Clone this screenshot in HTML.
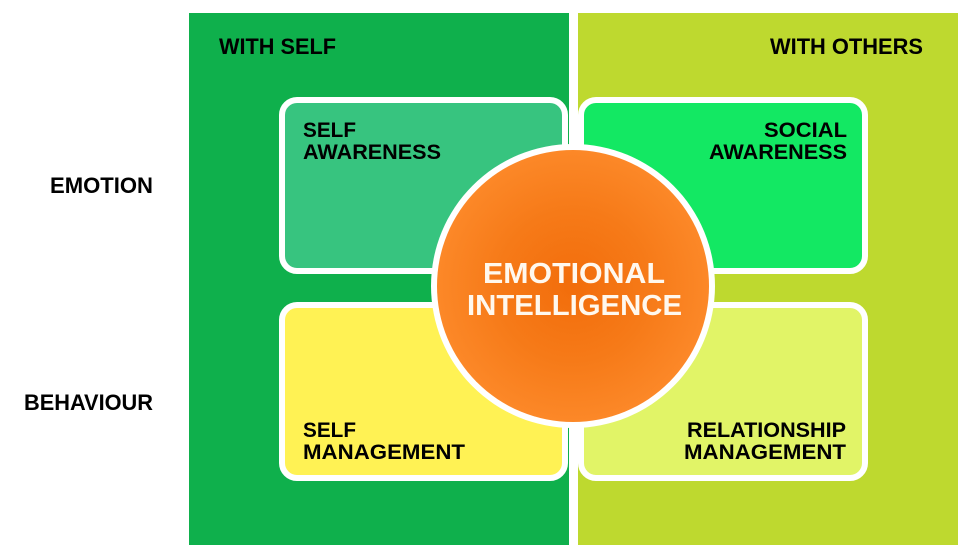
<!DOCTYPE html>
<html>
<head>
<meta charset="utf-8">
<style>
  html, body { margin: 0; padding: 0; background: #ffffff; }
  body { width: 971px; height: 558px; overflow: hidden; }
  svg { display: block; }
  text { font-family: "Liberation Sans", Arial, sans-serif; font-weight: bold; }
</style>
</head>
<body>
<svg width="971" height="558" viewBox="0 0 971 558" xmlns="http://www.w3.org/2000/svg">
  <defs>
    <radialGradient id="og" cx="0.5" cy="0.5" r="0.5">
      <stop offset="0" stop-color="#f26d0b"/>
      <stop offset="0.55" stop-color="#f67a18"/>
      <stop offset="1" stop-color="#fc8828"/>
    </radialGradient>
  </defs>
  <rect x="0" y="0" width="971" height="558" fill="#ffffff"/>

  <!-- panels -->
  <rect x="189" y="13" width="380" height="532" fill="#0fb04c"/>
  <rect x="578" y="13" width="380" height="532" fill="#bed92f"/>

  <!-- row labels -->
  <text x="50" y="193" font-size="22" textLength="103" lengthAdjust="spacingAndGlyphs" fill="#000">EMOTION</text>
  <text x="24" y="410" font-size="22" textLength="129" lengthAdjust="spacingAndGlyphs" fill="#000">BEHAVIOUR</text>

  <!-- column headings -->
  <text x="219" y="54" font-size="22" textLength="117" lengthAdjust="spacingAndGlyphs" fill="#000">WITH SELF</text>
  <text x="770" y="54" font-size="22" textLength="153" lengthAdjust="spacingAndGlyphs" fill="#000">WITH OTHERS</text>

  <!-- boxes -->
  <rect x="282" y="100" width="283" height="171" rx="15" fill="#37c47f" stroke="#ffffff" stroke-width="6"/>
  <rect x="581" y="100" width="284" height="171" rx="15" fill="#13e863" stroke="#ffffff" stroke-width="6"/>
  <rect x="282" y="305" width="283" height="173" rx="15" fill="#fff254" stroke="#ffffff" stroke-width="6"/>
  <rect x="581" y="305" width="284" height="173" rx="15" fill="#e1f467" stroke="#ffffff" stroke-width="6"/>

  <!-- box labels -->
  <text x="303" y="137" font-size="21" textLength="53" lengthAdjust="spacingAndGlyphs" fill="#000">SELF</text>
  <text x="303" y="159" font-size="21" textLength="138" lengthAdjust="spacingAndGlyphs" fill="#000">AWARENESS</text>

  <text x="764" y="137" font-size="21" textLength="83" lengthAdjust="spacingAndGlyphs" fill="#000">SOCIAL</text>
  <text x="709" y="159" font-size="21" textLength="138" lengthAdjust="spacingAndGlyphs" fill="#000">AWARENESS</text>

  <text x="303" y="437" font-size="21" textLength="53" lengthAdjust="spacingAndGlyphs" fill="#000">SELF</text>
  <text x="303" y="459" font-size="21" textLength="162" lengthAdjust="spacingAndGlyphs" fill="#000">MANAGEMENT</text>

  <text x="687" y="437" font-size="21" textLength="159" lengthAdjust="spacingAndGlyphs" fill="#000">RELATIONSHIP</text>
  <text x="684" y="459" font-size="21" textLength="162" lengthAdjust="spacingAndGlyphs" fill="#000">MANAGEMENT</text>

  <!-- center circle -->
  <circle cx="573" cy="286" r="142" fill="#ffffff"/>
  <circle cx="573" cy="286" r="136" fill="url(#og)"/>
  <text x="483" y="283" font-size="29" textLength="182" lengthAdjust="spacingAndGlyphs" fill="#fff8ee">EMOTIONAL</text>
  <text x="467" y="315" font-size="29" textLength="215" lengthAdjust="spacingAndGlyphs" fill="#fff8ee">INTELLIGENCE</text>
</svg>
</body>
</html>
